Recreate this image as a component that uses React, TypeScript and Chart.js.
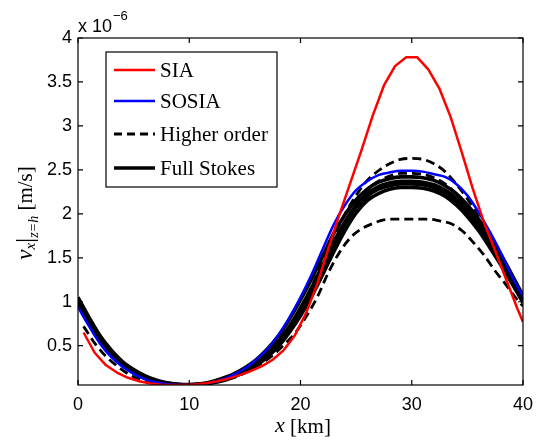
import React, { useEffect, useRef } from 'react';
import { Chart, registerables } from 'chart.js';

Chart.register(...registerables);

// x positions [km]
const X_KM = [0, 1, 2, 3, 4, 5, 6, 7, 8, 9, 10, 11, 12, 13, 14, 15, 16, 17, 18, 19, 20, 21, 22, 23, 24, 25, 26, 27, 28, 29, 30, 31, 32, 33, 34, 35, 36, 37, 38, 39, 40];
const X_HALF = [0.5, 1.5, 2.5, 3.5, 4.5, 5.5, 6.5, 7.5, 8.5, 9.5, 10.5, 11.5, 12.5, 13.5, 14.5, 15.5, 16.5, 17.5, 18.5, 19.5, 20.5, 21.5, 22.5, 23.5, 24.5, 25.5, 26.5, 27.5, 28.5, 29.5, 30.5, 31.5, 32.5, 33.5, 34.5, 35.5, 36.5, 37.5, 38.5, 39.5, 40];

// values in units of 1e-6 m/s
const SIA = [0.65, 0.42, 0.28, 0.195, 0.135, 0.095, 0.07, 0.056, 0.052, 0.053, 0.06, 0.072, 0.095, 0.125, 0.165, 0.21, 0.265, 0.34, 0.45, 0.62, 0.87, 1.2, 1.6, 1.99, 2.36, 2.73, 3.12, 3.46, 3.68, 3.78, 3.78, 3.64, 3.42, 3.1, 2.7, 2.28, 1.9, 1.58, 1.25, 0.92, 0.77];
const SOSIA = [0.94, 0.72, 0.52, 0.37, 0.26, 0.18, 0.12, 0.085, 0.062, 0.054, 0.054, 0.062, 0.08, 0.115, 0.17, 0.24, 0.34, 0.46, 0.62, 0.82, 1.05, 1.31, 1.60, 1.88, 2.10, 2.27, 2.37, 2.44, 2.47, 2.49, 2.49, 2.48, 2.45, 2.42, 2.34, 2.21, 2.02, 1.80, 1.56, 1.29, 1.06];
const HO_1 = [1.05, 0.82, 0.61, 0.45, 0.32, 0.22, 0.15, 0.10, 0.072, 0.058, 0.055, 0.062, 0.08, 0.11, 0.16, 0.22, 0.30, 0.41, 0.54, 0.71, 0.92, 1.17, 1.45, 1.74, 2.00, 2.21, 2.38, 2.49, 2.57, 2.62, 2.63, 2.62, 2.57, 2.48, 2.34, 2.17, 1.97, 1.75, 1.52, 1.29, 1.05];
const HO_2 = [0.98, 0.76, 0.56, 0.41, 0.29, 0.20, 0.14, 0.095, 0.068, 0.057, 0.054, 0.061, 0.078, 0.105, 0.15, 0.21, 0.29, 0.39, 0.52, 0.69, 0.89, 1.12, 1.38, 1.65, 1.90, 2.11, 2.27, 2.37, 2.43, 2.46, 2.46, 2.45, 2.41, 2.34, 2.23, 2.09, 1.92, 1.72, 1.50, 1.27, 1.03];
const HO_3 = [0.72, 0.53, 0.38, 0.27, 0.18, 0.12, 0.085, 0.065, 0.055, 0.052, 0.056, 0.068, 0.09, 0.12, 0.16, 0.22, 0.30, 0.39, 0.51, 0.64, 0.83, 1.05, 1.33, 1.56, 1.73, 1.83, 1.89, 1.93, 1.94, 1.94, 1.94, 1.94, 1.92, 1.89, 1.81, 1.68, 1.53, 1.35, 1.19, 1.02, 0.95];
const FS_1 = [1.05, 0.82, 0.61, 0.45, 0.32, 0.23, 0.16, 0.11, 0.078, 0.062, 0.057, 0.066, 0.09, 0.13, 0.18, 0.25, 0.34, 0.46, 0.61, 0.80, 1.02, 1.26, 1.52, 1.78, 1.99, 2.16, 2.28, 2.36, 2.40, 2.42, 2.42, 2.41, 2.38, 2.32, 2.23, 2.10, 1.94, 1.75, 1.54, 1.31, 1.07];
const FS_2 = [1.02, 0.80, 0.59, 0.43, 0.30, 0.21, 0.145, 0.10, 0.072, 0.059, 0.055, 0.063, 0.082, 0.115, 0.165, 0.23, 0.31, 0.42, 0.55, 0.72, 0.93, 1.16, 1.42, 1.68, 1.91, 2.10, 2.23, 2.31, 2.35, 2.37, 2.37, 2.36, 2.33, 2.27, 2.18, 2.05, 1.89, 1.70, 1.49, 1.27, 1.04];
const FS_3 = [1.00, 0.78, 0.57, 0.41, 0.30, 0.21, 0.14, 0.10, 0.07, 0.058, 0.055, 0.062, 0.08, 0.11, 0.16, 0.22, 0.30, 0.40, 0.53, 0.70, 0.90, 1.13, 1.38, 1.64, 1.88, 2.07, 2.20, 2.28, 2.32, 2.34, 2.34, 2.33, 2.30, 2.24, 2.14, 2.01, 1.85, 1.66, 1.46, 1.25, 1.02];
const FS_4 = [0.97, 0.75, 0.55, 0.40, 0.28, 0.19, 0.13, 0.09, 0.066, 0.056, 0.054, 0.06, 0.076, 0.10, 0.145, 0.20, 0.27, 0.37, 0.49, 0.65, 0.84, 1.06, 1.31, 1.57, 1.81, 2.01, 2.15, 2.23, 2.28, 2.30, 2.30, 2.29, 2.26, 2.20, 2.10, 1.97, 1.81, 1.62, 1.42, 1.21, 0.99];

const X_TICKS = [0, 10, 20, 30, 40];
const Y_TICKS = [0.5, 1, 1.5, 2, 2.5, 3, 3.5, 4];
const Y_MIN = 0.053;
const Y_MAX = 4;
const X_MIN = 0;
const X_MAX = 40;
const EXPONENT = '\u22126';

const LEGEND = [
  { label: 'SIA', color: '#ff0000', dash: [] as number[], width: 2.5 },
  { label: 'SOSIA', color: '#0000ff', dash: [] as number[], width: 2.5 },
  { label: 'Higher order', color: '#000000', dash: [8, 5], width: 2.8 },
  { label: 'Full Stokes', color: '#000000', dash: [] as number[], width: 3.5 },
];

const SANS = '"Liberation Sans", Arial, Helvetica, sans-serif';
const SERIF = '"Liberation Serif", "Times New Roman", serif';

function pts(xs: number[], ys: number[]) {
  return ys.map((y, i) => ({ x: xs[i], y }));
}

const decorPlugin = {
  id: 'decor',
  afterDatasetsDraw(chart: any) {
    const { ctx, chartArea: a, scales } = chart;
    ctx.save();
    ctx.strokeStyle = '#000';
    ctx.lineWidth = 1.2;
    ctx.setLineDash([]);
    ctx.strokeRect(a.left, a.top, a.right - a.left, a.bottom - a.top);
    const tl = 5;
    ctx.beginPath();
    X_TICKS.forEach((v) => {
      const px = scales.x.getPixelForValue(v);
      ctx.moveTo(px, a.bottom);
      ctx.lineTo(px, a.bottom - tl);
      ctx.moveTo(px, a.top);
      ctx.lineTo(px, a.top + tl);
    });
    Y_TICKS.forEach((v) => {
      const py = scales.y.getPixelForValue(v);
      ctx.moveTo(a.left, py);
      ctx.lineTo(a.left + tl, py);
      ctx.moveTo(a.right, py);
      ctx.lineTo(a.right - tl, py);
    });
    ctx.stroke();

    // legend
    const lx = 106, ly = 52, lw = 171, lh = 135;
    ctx.fillStyle = '#fff';
    ctx.fillRect(lx, ly, lw, lh);
    ctx.lineWidth = 1.2;
    ctx.strokeStyle = '#000';
    ctx.strokeRect(lx, ly, lw, lh);
    const rows = [70, 101, 134, 168];
    LEGEND.forEach((e, i) => {
      const y = rows[i];
      ctx.beginPath();
      ctx.setLineDash(e.dash);
      ctx.strokeStyle = e.color;
      ctx.lineWidth = e.width;
      ctx.moveTo(114, y);
      ctx.lineTo(155, y);
      ctx.stroke();
      ctx.setLineDash([]);
      ctx.fillStyle = '#000';
      ctx.font = `21px ${SERIF}`;
      ctx.textBaseline = 'middle';
      ctx.textAlign = 'left';
      ctx.fillText(e.label, 160, y + 1);
    });

    // exponent label
    ctx.fillStyle = '#000';
    ctx.textBaseline = 'alphabetic';
    ctx.font = `18px ${SANS}`;
    ctx.fillText('x 10', 78, 32);
    const w10 = ctx.measureText('x 10').width;
    ctx.font = `13px ${SANS}`;
    ctx.fillText(EXPONENT, 78 + w10 + 1, 20);

    // x title
    ctx.textBaseline = 'middle';
    ctx.font = `italic 22px ${SERIF}`;
    const wx = ctx.measureText('x').width;
    ctx.font = `21px ${SERIF}`;
    const wk = ctx.measureText(' [km]').width;
    const sx = 303 - (wx + wk) / 2;
    ctx.font = `italic 22px ${SERIF}`;
    ctx.fillText('x', sx, 426);
    ctx.font = `21px ${SERIF}`;
    ctx.fillText(' [km]', sx + wx, 427);

    // y title (rotated)
    ctx.translate(26, 213);
    ctx.rotate(-Math.PI / 2);
    const parts = [
      { t: 'v', f: `italic 23px ${SERIF}`, dy: 0 },
      { t: 'x', f: `italic 15px ${SERIF}`, dy: 5 },
      { t: '|', f: `26px ${SERIF}`, dy: 0 },
      { t: 'z=h', f: `italic 14px ${SERIF}`, dy: 8 },
      { t: ' [m/s]', f: `21px ${SERIF}`, dy: 0 },
    ];
    let total = 0;
    const widths = parts.map((p) => {
      ctx.font = p.f;
      const w = ctx.measureText(p.t).width;
      total += w;
      return w;
    });
    let cx = -total / 2;
    parts.forEach((p, i) => {
      ctx.font = p.f;
      ctx.fillText(p.t, cx, p.dy);
      cx += widths[i];
    });
    ctx.restore();
  },
};

export default function App() {
  const ref = useRef<HTMLCanvasElement | null>(null);

  useEffect(() => {
    document.body.style.margin = '0';
    const canvas = ref.current;
    if (!canvas) return;

    const hoStyle = { borderColor: '#000', borderWidth: 2.8, borderDash: [9, 5], order: 2 };
    const fsStyle = { borderColor: '#000', borderWidth: 3.6, order: 3 };

    const chart = new Chart(canvas, {
      type: 'line',
      data: {
        datasets: [
          { label: 'SIA', data: pts(X_HALF, SIA), borderColor: '#ff0000', borderWidth: 2.5, order: 0, cubicInterpolationMode: 'default', tension: 0 },
          { label: 'SOSIA', data: pts(X_KM, SOSIA), borderColor: '#0000ff', borderWidth: 2.5, order: 1 },
          { label: 'Higher order', data: pts(X_KM, HO_1), ...hoStyle },
          { label: 'Higher order 2', data: pts(X_KM, HO_2), ...hoStyle },
          { label: 'Higher order 3', data: pts(X_HALF, HO_3), ...hoStyle },
          { label: 'Full Stokes', data: pts(X_KM, FS_1), ...fsStyle },
          { label: 'Full Stokes 2', data: pts(X_KM, FS_2), ...fsStyle },
          { label: 'Full Stokes 3', data: pts(X_KM, FS_3), ...fsStyle },
          { label: 'Full Stokes 4', data: pts(X_KM, FS_4), ...fsStyle },
        ] as any,
      },
      options: {
        responsive: false,
        animation: false,
        events: [],
        layout: { padding: { left: 0, top: 38, right: 11, bottom: 0 } },
        elements: {
          point: { radius: 0 },
          line: { cubicInterpolationMode: 'monotone', fill: false, borderCapStyle: 'butt', borderJoinStyle: 'round' },
        },
        plugins: {
          legend: { display: false },
          tooltip: { enabled: false },
          title: { display: false },
        },
        scales: {
          x: {
            type: 'linear',
            min: X_MIN,
            max: X_MAX,
            grid: { display: false, drawTicks: false },
            border: { display: false },
            afterBuildTicks: (s: any) => {
              s.ticks = X_TICKS.map((v) => ({ value: v }));
            },
            afterFit: (s: any) => {
              s.height = 57;
            },
            ticks: {
              color: '#000',
              padding: 9,
              maxRotation: 0,
              autoSkip: false,
              font: { family: SANS, size: 18 },
              callback: (v: any) => String(v),
            },
          },
          y: {
            type: 'linear',
            min: Y_MIN,
            max: Y_MAX,
            grid: { display: false, drawTicks: false },
            border: { display: false },
            afterBuildTicks: (s: any) => {
              s.ticks = Y_TICKS.map((v) => ({ value: v }));
            },
            afterFit: (s: any) => {
              s.width = 78;
            },
            ticks: {
              color: '#000',
              padding: 6,
              autoSkip: false,
              font: { family: SANS, size: 18 },
              callback: (v: any) => String(v),
            },
          },
        },
      } as any,
      plugins: [decorPlugin],
    });

    return () => chart.destroy();
  }, []);

  return (
    <div style={{ position: 'absolute', left: 0, top: 0, width: 542, height: 442, background: '#fff' }}>
      <canvas ref={ref} width={542} height={442} style={{ width: 542, height: 442, display: 'block' }} />
    </div>
  );
}
